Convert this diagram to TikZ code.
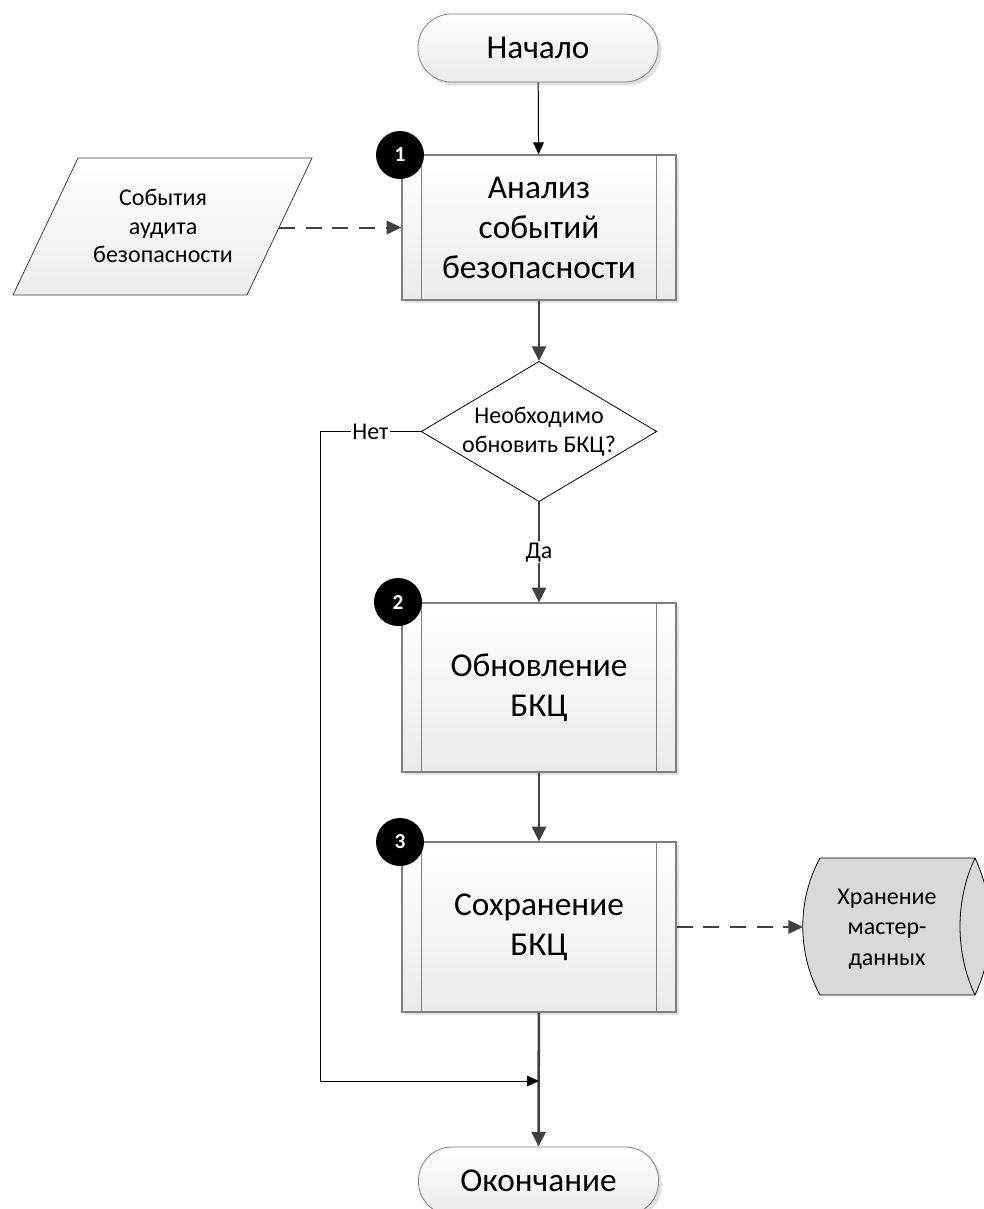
\documentclass[tikz,border=0pt]{standalone}
\usepackage{fontspec}
\setmainfont{Carlito}
\usetikzlibrary{arrows.meta,shapes.geometric,shadows}

\definecolor{linegray}{HTML}{404040}
\definecolor{boxedge}{HTML}{7F7F7F}
\definecolor{storefill}{HTML}{D9D9D9}

\tikzset{
  bigtext/.style={font=\fontsize{25}{30}\selectfont, align=center},
  smalltext/.style={font=\fontsize{18}{21.5}\selectfont, align=center},
  softfill/.style={top color=white, bottom color=black!8},
  softshadow/.style={drop shadow={shadow xshift=2.5pt, shadow yshift=-2.5pt, fill=black!12, opacity=1}},
  terminal/.style={rectangle, rounded corners=25pt, draw=boxedge, line width=0.6pt,
    softfill, softshadow, minimum width=180pt, minimum height=51pt, inner sep=0pt, bigtext},
  subproc/.style={rectangle, draw=boxedge, line width=0.9pt, softfill, softshadow,
    minimum width=205.5pt, inner sep=0pt, bigtext},
  badge/.style={circle, fill=black, text=white, minimum size=36pt, inner sep=0pt,
    font=\fontsize{16}{16}\selectfont\bfseries},
  decision/.style={diamond, aspect=1.68, draw=black, line width=0.6pt, fill=white,
    minimum width=175.5pt, minimum height=104.25pt, inner sep=0pt, smalltext},
  flow/.style={draw=linegray, line width=1.9pt, -{Triangle[length=11pt,width=10.5pt]}},
  thinflow/.style={draw=black, line width=0.75pt, -{Triangle[length=9pt,width=8pt]}},
  dataflow/.style={draw=linegray, line width=1.5pt, dash pattern=on 12pt off 8pt,
    -{Triangle[length=11pt,width=10pt]}},
  edgelabel/.style={fill=white, inner sep=1pt, smalltext},
}

\begin{document}
\begin{tikzpicture}[x=0.75pt, y=-0.75pt]
  \useasboundingbox (0,0) rectangle (983,1209);

  % terminators
  \node[terminal] (start) at (538,48) {Начало};
  \node[terminal] (finish) at (538.5,1181) {Окончание};

  % sub-process boxes
  \node[subproc, minimum height=108.75pt] (b1) at (539,227.5) {Анализ\\событий\\безопасности};
  \node[subproc, minimum height=126.75pt] (b2) at (539,687.5) {Обновление\\БКЦ};
  \node[subproc, minimum height=127.5pt] (b3) at (539,927) {Сохранение\\БКЦ};
  \foreach \b in {b1,b2,b3} {
    \draw[boxedge, line width=0.9pt]
      ([xshift=15pt]\b.north west) -- ([xshift=15pt]\b.south west)
      ([xshift=-15pt]\b.north east) -- ([xshift=-15pt]\b.south east);
  }
  \node[badge] (n1) at (400,155) {1};
  \node[badge] (n2) at (398,602) {2};
  \node[badge] (n3) at (400,842) {3};

  % input data
  \draw[draw=linegray, line width=0.6pt, top color=white, bottom color=black!7]
    (78,158) -- (312,158) -- (247,295) -- (13,295) -- cycle;
  \node[smalltext] (events) at (163,226) {События\\аудита\\безопасности};
  \coordinate (eventsR) at (279,227.5);

  % decision
  \node[decision] (dec) at (539,431.5) {Необходимо\\обновить БКЦ?};

  % stored data
  \draw[draw=black, line width=0.6pt, fill=storefill]
    (820,858) -- (975,858)
    .. controls (995,900) and (995,953) .. (975,995)
    -- (820,995)
    .. controls (797,953) and (797,900) .. (820,858) -- cycle;
  \draw[draw=black, line width=0.6pt]
    (975,858) .. controls (955,900) and (955,953) .. (975,995);
  \node[smalltext, font=\fontsize{18}{23}\selectfont] (store) at (887,929) {Хранение\\мастер-\\данных};
  \coordinate (storeL) at (803,927);

  % connectors
  \draw[thinflow] (start) -- (b1);
  \draw[dataflow] (eventsR) -- (eventsR -| b1.west);
  \draw[flow] (b1) -- (dec);
  \draw[flow] (dec.south) -- node[edgelabel] {Да} (b2.north);
  \draw[flow] (b2) -- (b3);
  \draw[flow] (b3) -- (finish);
  \draw[dataflow] (b3.east) -- (storeL);

  \coordinate (skip) at (320,1081);
  \coordinate (join) at (539,1081);
  \draw[thinflow] (dec.west) -- node[edgelabel] {Нет} (dec.west -| skip) -- (skip) -- (join);
\end{tikzpicture}
\end{document}
